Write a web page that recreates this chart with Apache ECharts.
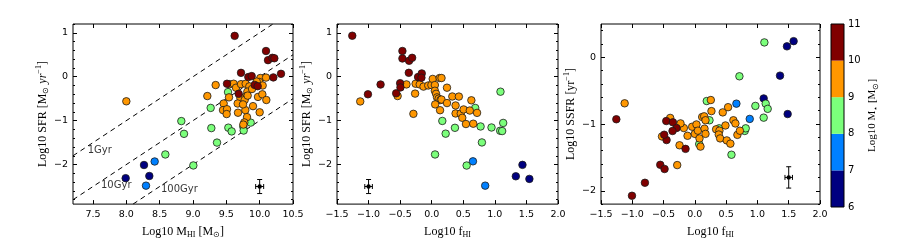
<!DOCTYPE html>
<html><head><meta charset="utf-8">
<script src="https://cdn.jsdelivr.net/npm/echarts@6/dist/echarts.min.js"></script>
<style>html,body{margin:0;padding:0;background:#fff}#c{width:913px;height:244px}</style>
</head><body><div id="c"></div>
<script>
// ---------- DATA ----------
// stellar-mass bins (colour classes), Log10 M* [Msun]
const massBins = ['6-7', '7-8', '8-9', '9-10', '10-11'];
const colorbarBands = [[6, 7], [7, 8], [8, 9], [9, 10], [10, 11]];
const colorbarTicks = [6, 7, 8, 9, 10, 11];

// Panel 1: [Log10 M_HI, Log10 SFR]
const p1_m6_7 = [[7.99, -2.31], [8.265, -2.01], [8.345, -2.26]];
const p1_m7_8 = [[8.425, -1.93], [8.295, -2.48]];
const p1_m8_9 = [[8.585, -1.77], [8.825, -1.01], [8.865, -1.30], [9.005, -2.02], [9.265, -0.71], [9.275, -1.17], [9.36, -1.50],
  [9.525, -0.35], [9.53, -1.16], [9.58, -1.245], [9.755, -1.14], [9.76, -1.225], [9.865, -1.045]];
const p1_m9_10 = [[8.0, -0.56], [9.34, -0.19], [9.215, -0.44], [9.46, -0.61], [9.45, -0.76], [9.51, -0.74], [9.505, -0.85],
  [9.54, -0.47], [9.55, -0.17], [9.61, -0.16], [9.645, -0.25], [9.72, -0.17], [9.79, -0.16], [9.845, -0.22], [9.815, -0.34],
  [9.795, -0.45], [9.71, -0.48], [9.67, -0.61], [9.775, -0.53], [9.675, -0.82], [9.785, -0.76], [9.81, -0.92], [9.77, -1.04],
  [9.755, -1.09], [9.9, -0.67], [9.975, -0.46], [10.01, -0.03], [9.995, -0.12], [10.095, -0.02], [10.04, -0.40], [10.1, -0.53],
  [10.0, -0.81], [9.94, -0.2], [9.885, -0.28], [9.75, -0.63], [9.82, -0.43], [9.955, -0.11], [10.045, -0.2]];
const p1_m10_11 = [[9.625, 0.93], [10.095, 0.585], [10.125, 0.377], [10.19, 0.43], [10.22, 0.42], [10.32, 0.066], [10.205, -0.016],
  [9.72, 0.088], [9.83, -0.008], [9.88, 0.014], [9.51, -0.16], [9.685, -0.39], [9.925, -0.186], [9.97, -0.216]];
const p1_errbar = [[10.0, -2.5, 0.06, 0.16]];           // [x, y, xerr, yerr]
// depletion-time lines (endpoints) and their labels
const depletionLines = {
  '1Gyr': [[7.2, -1.8], [10.5, 1.5]],
  '10Gyr': [[7.2, -2.8], [10.5, 0.5]],
  '100Gyr': [[7.2, -3.8], [10.5, -0.5]]
};
const depletionLabels = [['1Gyr', 7.42, -1.67], ['10Gyr', 7.62, -2.47], ['100Gyr', 8.52, -2.57]];

// Panel 2: [Log10 f_HI, Log10 SFR]
const p2_m6_7 = [[1.437, -2.007], [1.332, -2.267], [1.547, -2.326]];
const p2_m7_8 = [[0.653, -1.926], [0.847, -2.48]];
const p2_m8_9 = [[1.089, -0.341], [0.689, -0.711], [0.168, -1.007], [0.368, -1.163], [0.221, -1.296], [0.774, -1.133],
  [0.947, -1.156], [1.084, -1.23], [1.116, -1.237], [1.132, -1.052], [0.795, -1.496], [0.053, -1.77], [0.553, -2.022]];
const p2_m9_10 = [[-1.132, -0.563], [-0.54, -0.44], [-0.40, -0.175], [-0.263, -0.385], [-0.29, -0.845], [-0.255, -0.16],
  [-0.19, -0.175], [-0.13, -0.225], [-0.055, -0.2], [-0.005, -0.19], [0.016, -0.05], [0.05, -0.19], [0.05, -0.32],
  [0.069, -0.39], [0.084, -0.47], [0.11, -0.5], [0.14, -0.53], [0.155, -0.52], [0.055, -0.63], [0.132, -0.763],
  [0.126, -0.03], [0.155, -0.03], [0.242, -0.25], [0.242, -0.60], [0.326, -0.45], [0.378, -0.655], [0.378, -0.837],
  [0.43, -0.452], [0.46, -0.838], [0.484, -0.935], [0.505, -0.745], [0.542, -1.077], [0.603, -0.77], [0.628, -0.537],
  [0.658, -1.07], [0.718, -0.823]];
const p2_m10_11 = [[-1.258, 0.933], [-0.464, 0.585], [-0.464, 0.415], [-0.358, 0.363], [-0.31, 0.43], [-0.363, 0.089],
  [-0.216, -0.007], [-0.158, 0.074], [-0.163, -0.022], [-0.81, -0.178], [-1.01, -0.40], [-0.563, -0.378], [-0.5, -0.148],
  [-0.495, -0.244]];
const p2_errbar = [[-1.0, -2.5, 0.06, 0.16]];

// Panel 3: [Log10 f_HI, Log10 SSFR]
const p3_m6_7 = [[1.578, 0.243], [1.472, 0.165], [1.361, -0.274], [1.1, -0.616], [1.483, -0.85]];
const p3_m7_8 = [[0.664, -0.694], [0.877, -0.923]];
const p3_m8_9 = [[1.111, 0.224], [0.712, -0.284], [0.19, -0.655], [0.234, -0.943], [0.967, -0.728], [1.132, -0.694],
  [1.164, -0.772], [1.1, -0.904], [0.797, -1.103], [0.813, -1.064], [0.388, -1.064], [0.069, -1.3], [0.585, -1.46]];
const p3_m9_10 = [[-1.122, -0.689], [-0.282, -1.615], [-0.394, -0.908], [-0.525, -1.186], [-0.245, -1.318], [-0.176, -1.06],
  [-0.117, -1.176], [-0.043, -1.04], [0.0, -1.147], [0.026, -1.006], [0.048, -1.099], [0.074, -1.215], [0.09, -1.338],
  [0.117, -0.894], [0.149, -0.884], [0.17, -0.943], [0.154, -1.069], [0.17, -1.147], [0.255, -0.64], [0.265, -0.806],
  [0.34, -1.079], [0.393, -1.099], [0.382, -1.157], [0.404, -1.215], [0.446, -0.825], [0.489, -1.021], [0.51, -1.245],
  [0.531, -0.747], [0.568, -1.294], [0.616, -0.943], [0.648, -0.991], [0.68, -1.162], [0.72, -1.1], [-0.229, -0.99]];
const p3_m10_11 = [[-1.255, -0.928], [-1.005, -2.075], [-0.798, -1.88], [-0.553, -1.611], [-0.484, -1.674], [-0.457, -0.955],
  [-0.351, -0.974], [-0.293, -1.06], [-0.357, -1.104], [-0.452, -1.24], [-0.149, -1.372], [-0.49, -1.16]];
const p3_errbar = [[1.5, -1.8, 0.06, 0.16]];

// axis ranges and ticks
const p1_xTicks = [7.5, 8.0, 8.5, 9.0, 9.5, 10.0, 10.5];
const fhiTicks = [-1.5, -1.0, -0.5, 0.0, 0.5, 1.0, 1.5, 2.0];
const sfrTicks = [-2, -1, 0, 1];
const sfrMinor = [-2.8, -2.6, -2.4, -2.2, -2.0, -1.8, -1.6, -1.4, -1.2, -1.0, -0.8, -0.6, -0.4, -0.2, 0, 0.2, 0.4, 0.6, 0.8, 1.0, 1.2];
const ssfrTicks = [-2, -1, 0];
const ssfrMinor = [-2.2, -2.0, -1.8, -1.6, -1.4, -1.2, -1.0, -0.8, -0.6, -0.4, -0.2, 0, 0.2, 0.4];

// ---------- STYLE ----------
const binColors = ['#000080', '#0080ff', '#7bff7b', '#ff9700', '#800000'];
const TICK_FONT = 'DejaVu Sans';
const SERIF = 'Liberation Serif';
const grids = [
  { left: 73, top: 24, width: 220, height: 183 },
  { left: 337, top: 24, width: 221, height: 183 },
  { left: 601, top: 24, width: 219, height: 183 },
  { left: 831, top: 24, width: 13, height: 183 }
];
const fmtMinus = (d) => (v) => Number(v).toFixed(d).replace('-', '\u2212');

const nameRich = {
  sub: { fontFamily: SERIF, fontSize: 8, lineHeight: 8, verticalAlign: 'bottom', color: '#000' },
  sup: { fontFamily: SERIF, fontSize: 8, lineHeight: 8, verticalAlign: 'top', color: '#000' },
  it: { fontFamily: SERIF, fontSize: 12, fontStyle: 'italic', color: '#000' }
};
const nameStyle = { fontFamily: SERIF, fontSize: 12, lineHeight: 15, color: '#000', rich: nameRich };
const noLine = { show: false, onZero: false };

function xAxes(gi, min, max, ticks, dec, name) {
  const base = { gridIndex: gi, type: 'value', min: min, max: max, splitLine: { show: false }, axisLine: noLine };
  return [
    Object.assign({}, base, {
      position: 'bottom', name: name, nameLocation: 'middle', nameGap: 17, nameTextStyle: nameStyle,
      axisTick: { inside: true, length: 4, customValues: ticks, lineStyle: { color: '#000' } },
      axisLabel: { customValues: ticks, formatter: fmtMinus(dec), fontFamily: TICK_FONT, fontSize: 9.5, color: '#000', margin: 5 }
    }),
    Object.assign({}, base, {
      position: 'top', axisTick: { inside: true, length: 4, customValues: ticks, lineStyle: { color: '#000' } },
      axisLabel: { show: false }
    })
  ];
}
function yAxes(gi, min, max, ticks, minor, name, gap) {
  const base = { gridIndex: gi, type: 'value', min: min, max: max, splitLine: { show: false }, axisLine: noLine };
  const out = [
    Object.assign({}, base, {
      position: 'left', name: name, nameLocation: 'middle', nameGap: gap, nameRotate: 90, nameTextStyle: nameStyle,
      axisTick: { inside: true, length: 4, customValues: ticks, lineStyle: { color: '#000' } },
      axisLabel: { customValues: ticks, formatter: fmtMinus(0), fontFamily: TICK_FONT, fontSize: 9.5, color: '#000', margin: 5 }
    })
  ];
  ['left', 'right'].forEach(function (pos) {
    out.push(Object.assign({}, base, { position: pos, axisLabel: { show: false },
      axisTick: { inside: true, length: 2, customValues: minor, lineStyle: { color: '#000' } } }));
  });
  out.push(Object.assign({}, base, { position: 'right', axisLabel: { show: false },
    axisTick: { inside: true, length: 4, customValues: ticks, lineStyle: { color: '#000' } } }));
  return out;
}

const xAxis = [].concat(
  xAxes(0, 7.2, 10.5, p1_xTicks, 1, 'Log10 M{sub|HI} [M{sub|\u2299}]'),
  xAxes(1, -1.5, 2.0, fhiTicks, 1, 'Log10 f{sub|HI}'),
  xAxes(2, -1.5, 2.0, fhiTicks, 1, 'Log10 f{sub|HI}'),
  [{ gridIndex: 3, type: 'value', min: 0, max: 1, show: false, axisLine: noLine }]
);
const yAxis = [].concat(
  yAxes(0, -2.9, 1.2, sfrTicks, sfrMinor, 'Log10 SFR [M{sub|\u2299} {it|yr}{sup|\u22121}]', 22),
  yAxes(1, -2.9, 1.2, sfrTicks, sfrMinor, 'Log10 SFR [M{sub|\u2299} {it|yr}{sup|\u22121}]', 22),
  yAxes(2, -2.2, 0.5, ssfrTicks, ssfrMinor, 'Log10 SSFR [yr{sup|\u22121}]', 22),
  [{ gridIndex: 3, type: 'value', min: 6, max: 11, interval: 1, position: 'right',
     splitLine: { show: false }, axisLine: noLine,
     axisTick: { show: false },
     axisLabel: { fontFamily: TICK_FONT, fontSize: 10, color: '#000', margin: 4 },
     name: 'Log10 M{sub|\u22c6} [M{sub|\u2299}]', nameLocation: 'middle', nameRotate: 90, nameGap: 19,
     nameTextStyle: Object.assign({}, nameStyle, { fontSize: 11 }) }]
);

const series = [];
function scatterSet(gi, sets) {
  sets.forEach(function (d, k) {
    series.push({
      type: 'scatter', name: massBins[k], xAxisIndex: gi * 2, yAxisIndex: gi * 4, data: d,
      symbol: 'circle', symbolSize: 7.5, z: 3 + k,
      itemStyle: { color: binColors[k], borderColor: '#1a1a1a', borderWidth: 0.8, opacity: 1 },
      emphasis: { disabled: true }
    });
  });
}
function errSeries(gi, d) {
  series.push({
    type: 'custom', xAxisIndex: gi * 2, yAxisIndex: gi * 4, data: d, z: 10,
    renderItem: function (params, api) {
      const x = api.value(0), y = api.value(1), ex = api.value(2), ey = api.value(3);
      const c = api.coord([x, y]), l = api.coord([x - ex, y]), r = api.coord([x + ex, y]);
      const t = api.coord([x, y + ey]), b = api.coord([x, y - ey]);
      const s = { stroke: '#000', lineWidth: 1 }, cap = 2.5;
      return { type: 'group', children: [
        { type: 'line', shape: { x1: l[0], y1: l[1], x2: r[0], y2: r[1] }, style: s },
        { type: 'line', shape: { x1: t[0], y1: t[1], x2: b[0], y2: b[1] }, style: s },
        { type: 'line', shape: { x1: l[0], y1: l[1] - cap, x2: l[0], y2: l[1] + cap }, style: s },
        { type: 'line', shape: { x1: r[0], y1: r[1] - cap, x2: r[0], y2: r[1] + cap }, style: s },
        { type: 'line', shape: { x1: t[0] - cap, y1: t[1], x2: t[0] + cap, y2: t[1] }, style: s },
        { type: 'line', shape: { x1: b[0] - cap, y1: b[1], x2: b[0] + cap, y2: b[1] }, style: s },
        { type: 'circle', shape: { cx: c[0], cy: c[1], r: 2.2 }, style: { fill: '#000' } }
      ] };
    }
  });
}

// depletion lines (panel 1)
Object.keys(depletionLines).forEach(function (k) {
  series.push({ type: 'line', xAxisIndex: 0, yAxisIndex: 0, data: depletionLines[k], symbol: 'none', z: 1,
    clip: true, lineStyle: { color: '#000', width: 1, type: [5, 4] }, silent: true });
});
series.push({ type: 'scatter', xAxisIndex: 0, yAxisIndex: 0, symbolSize: 0, z: 2, silent: true,
  data: depletionLabels.map(function (a) { return { value: [a[1], a[2]], name: a[0] }; }),
  label: { show: true, position: [0, 0], align: 'left', verticalAlign: 'middle', formatter: '{b}',
    fontFamily: TICK_FONT, fontSize: 10, color: '#000' } });

scatterSet(0, [p1_m6_7, p1_m7_8, p1_m8_9, p1_m9_10, p1_m10_11]);
scatterSet(1, [p2_m6_7, p2_m7_8, p2_m8_9, p2_m9_10, p2_m10_11]);
scatterSet(2, [p3_m6_7, p3_m7_8, p3_m8_9, p3_m9_10, p3_m10_11]);
errSeries(0, p1_errbar);
errSeries(1, p2_errbar);
errSeries(2, p3_errbar);

// colorbar
series.push({
  type: 'custom', xAxisIndex: 6, yAxisIndex: 12, data: colorbarBands, silent: true,
  renderItem: function (params, api) {
    const a = api.coord([0, api.value(1)]), b = api.coord([1, api.value(0)]);
    return { type: 'rect', shape: { x: a[0], y: a[1], width: b[0] - a[0], height: b[1] - a[1] },
      style: { fill: binColors[params.dataIndex] } };
  }
});

const chart = echarts.init(document.getElementById('c'), null, { renderer: 'canvas' });
chart.setOption({
  animation: false,
  backgroundColor: '#fff',
  grid: grids.map(function (g) { return Object.assign({ show: true, borderColor: '#000', borderWidth: 1, backgroundColor: 'transparent', z: 20 }, g); }),
  xAxis: xAxis,
  yAxis: yAxis,
  series: series
});
</script></body></html>
